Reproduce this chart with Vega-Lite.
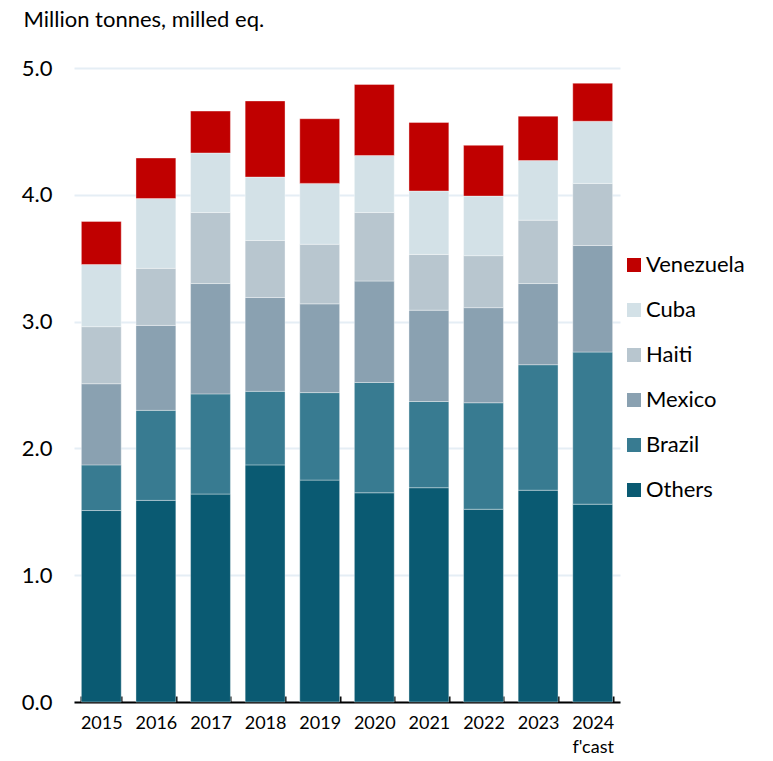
{
  "$schema": "https://vega.github.io/schema/vega-lite/v6.json",
  "width": 546,
  "height": 634,
  "autosize": {"type": "none"},
  "padding": {"left": 74, "top": 68, "right": 153, "bottom": 59},
  "background": "white",
  "config": {
    "view": {"stroke": null},
    "font": "Lato"
  },
  "data": {
    "values": [
      {"year": "2015", "series": "Others", "value": 1.51},
      {"year": "2015", "series": "Brazil", "value": 0.36},
      {"year": "2015", "series": "Mexico", "value": 0.64},
      {"year": "2015", "series": "Haiti", "value": 0.45},
      {"year": "2015", "series": "Cuba", "value": 0.49},
      {"year": "2015", "series": "Venezuela", "value": 0.34},
      {"year": "2016", "series": "Others", "value": 1.59},
      {"year": "2016", "series": "Brazil", "value": 0.71},
      {"year": "2016", "series": "Mexico", "value": 0.67},
      {"year": "2016", "series": "Haiti", "value": 0.45},
      {"year": "2016", "series": "Cuba", "value": 0.55},
      {"year": "2016", "series": "Venezuela", "value": 0.32},
      {"year": "2017", "series": "Others", "value": 1.64},
      {"year": "2017", "series": "Brazil", "value": 0.79},
      {"year": "2017", "series": "Mexico", "value": 0.87},
      {"year": "2017", "series": "Haiti", "value": 0.56},
      {"year": "2017", "series": "Cuba", "value": 0.47},
      {"year": "2017", "series": "Venezuela", "value": 0.33},
      {"year": "2018", "series": "Others", "value": 1.87},
      {"year": "2018", "series": "Brazil", "value": 0.58},
      {"year": "2018", "series": "Mexico", "value": 0.74},
      {"year": "2018", "series": "Haiti", "value": 0.45},
      {"year": "2018", "series": "Cuba", "value": 0.50},
      {"year": "2018", "series": "Venezuela", "value": 0.60},
      {"year": "2019", "series": "Others", "value": 1.75},
      {"year": "2019", "series": "Brazil", "value": 0.69},
      {"year": "2019", "series": "Mexico", "value": 0.70},
      {"year": "2019", "series": "Haiti", "value": 0.47},
      {"year": "2019", "series": "Cuba", "value": 0.48},
      {"year": "2019", "series": "Venezuela", "value": 0.51},
      {"year": "2020", "series": "Others", "value": 1.65},
      {"year": "2020", "series": "Brazil", "value": 0.87},
      {"year": "2020", "series": "Mexico", "value": 0.80},
      {"year": "2020", "series": "Haiti", "value": 0.54},
      {"year": "2020", "series": "Cuba", "value": 0.45},
      {"year": "2020", "series": "Venezuela", "value": 0.56},
      {"year": "2021", "series": "Others", "value": 1.69},
      {"year": "2021", "series": "Brazil", "value": 0.68},
      {"year": "2021", "series": "Mexico", "value": 0.72},
      {"year": "2021", "series": "Haiti", "value": 0.44},
      {"year": "2021", "series": "Cuba", "value": 0.50},
      {"year": "2021", "series": "Venezuela", "value": 0.54},
      {"year": "2022", "series": "Others", "value": 1.52},
      {"year": "2022", "series": "Brazil", "value": 0.84},
      {"year": "2022", "series": "Mexico", "value": 0.75},
      {"year": "2022", "series": "Haiti", "value": 0.41},
      {"year": "2022", "series": "Cuba", "value": 0.47},
      {"year": "2022", "series": "Venezuela", "value": 0.40},
      {"year": "2023", "series": "Others", "value": 1.67},
      {"year": "2023", "series": "Brazil", "value": 0.99},
      {"year": "2023", "series": "Mexico", "value": 0.64},
      {"year": "2023", "series": "Haiti", "value": 0.50},
      {"year": "2023", "series": "Cuba", "value": 0.47},
      {"year": "2023", "series": "Venezuela", "value": 0.35},
      {"year": "2024", "series": "Others", "value": 1.56},
      {"year": "2024", "series": "Brazil", "value": 1.20},
      {"year": "2024", "series": "Mexico", "value": 0.84},
      {"year": "2024", "series": "Haiti", "value": 0.49},
      {"year": "2024", "series": "Cuba", "value": 0.49},
      {"year": "2024", "series": "Venezuela", "value": 0.30}
    ]
  },
  "transform": [
    {"calculate": "indexof(['Others', 'Brazil', 'Mexico', 'Haiti', 'Cuba', 'Venezuela'], datum.series)", "as": "stackOrder"}
  ],
  "mark": {"type": "bar", "stroke": "#ffffff", "strokeWidth": 0.6, "strokeOpacity": 0.6},
  "encoding": {
    "x": {
      "field": "year",
      "type": "nominal",
      "scale": {"paddingInner": 0.27, "paddingOuter": 0.135},
      "axis": {
        "title": null,
        "labelAngle": 0,
        "labelFontSize": 18,
        "labelColor": "#000000",
        "labelPadding": 18,
        "labelLineHeight": 24,
        "labelExpr": "datum.value == '2024' ? ['2024', \"f'cast\"] : datum.value",
        "domainColor": "#000000",
        "domainWidth": 2,
        "tickBand": "extent",
        "ticks": true,
        "tickColor": "#000000",
        "tickWidth": 2,
        "tickSize": -6,
        "grid": false
      }
    },
    "y": {
      "field": "value",
      "type": "quantitative",
      "aggregate": "sum",
      "stack": "zero",
      "scale": {"domain": [0, 5], "nice": false},
      "axis": {
        "title": "Million tonnes, milled eq.",
        "titleAngle": 0,
        "titleAlign": "left",
        "titleBaseline": "middle",
        "titleX": -51,
        "titleY": -49,
        "titleFontSize": 22,
        "titleFontWeight": "normal",
        "titleColor": "#000000",
        "values": [0, 1, 2, 3, 4, 5],
        "format": ".1f",
        "labelFontSize": 22,
        "labelColor": "#000000",
        "labelPadding": 22,
        "domain": false,
        "ticks": false,
        "grid": true,
        "gridColor": "#e5eef5",
        "gridWidth": 2
      }
    },
    "order": {"field": "stackOrder", "type": "quantitative", "sort": "ascending"},
    "color": {
      "field": "series",
      "type": "nominal",
      "scale": {
        "domain": ["Venezuela", "Cuba", "Haiti", "Mexico", "Brazil", "Others"],
        "range": ["#c00000", "#d3e1e7", "#b8c6cf", "#8aa1b1", "#387b91", "#0a5a72"]
      },
      "legend": {
        "title": null,
        "orient": "none",
        "legendX": 549,
        "legendY": 186,
        "symbolType": "square",
        "symbolSize": 196,
        "symbolStrokeWidth": 0,
        "labelFontSize": 22,
        "labelColor": "#000000",
        "labelOffset": 1,
        "rowPadding": 23,
        "labelLimit": 200
      }
    }
  }
}
